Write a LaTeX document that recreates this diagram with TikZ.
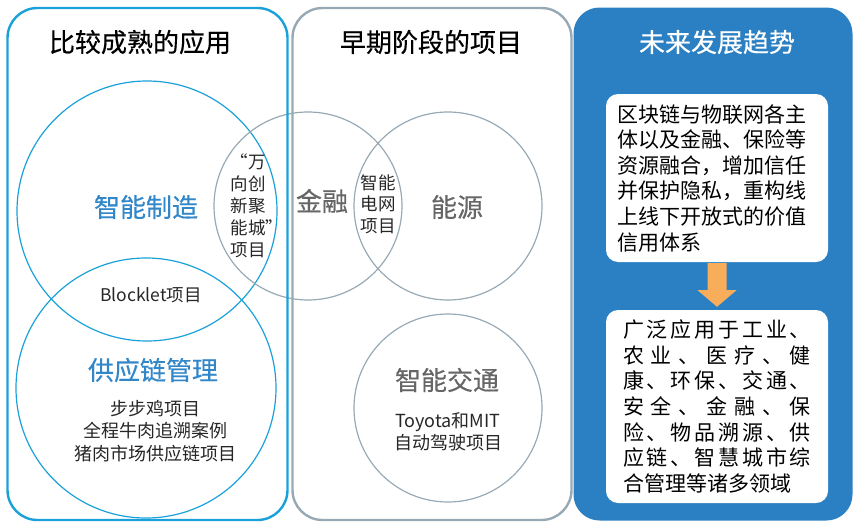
\documentclass[tikz,border=0pt]{standalone}
\usepackage{fontspec}
\setmainfont{Noto Sans CJK SC}
\newfontfamily\headfont[FakeBold=0.4]{Noto Sans CJK SC}
\usetikzlibrary{calc}
\definecolor{panelblue}{HTML}{1BA1DA}
\definecolor{panelgrey}{HTML}{97A9B5}
\definecolor{trendblue}{HTML}{2A80C2}
\definecolor{labelblue}{HTML}{3287C9}
\definecolor{labelgrey}{HTML}{666666}
\definecolor{arroworange}{HTML}{F8AD5B}
% spread the characters of one line over the box width
\newcommand{\spreadrow}[1]{\leavevmode\hbox to 188pt{\spreadfirst#1\relax}}
\def\spreadfirst#1{#1\spreadnext}
\def\spreadnext#1{\ifx#1\relax\else\hfil#1\expandafter\spreadnext\fi}
\begin{document}
\begin{tikzpicture}[x=1pt,y=-1pt,
    panel/.style={rectangle,rounded corners=30pt,line width=2.4pt,minimum height=512pt,inner sep=0pt},
    venn/.style={circle,line width=1.2pt,inner sep=0pt},
    heading/.style={font=\headfont\fontsize{26}{30}\selectfont},
    smalltext/.style={font=\fontsize{17.5}{22}\selectfont,align=center,text=black!85},
    trendbox/.style={rectangle,fill=white,rounded corners=12pt,minimum width=222pt,inner sep=0pt,align=left,font=\fontsize{21}{25.6}\selectfont}]
    \useasboundingbox (0,0) rectangle (854,522);
    % venn circles
    \node[venn,draw=panelblue,minimum size=260pt] (manuf)   at (147,211) {};
    \node[venn,draw=panelblue,minimum size=260pt] (supply)  at (146,388) {};
    \node[venn,draw=panelgrey,minimum size=188pt] (finance) at (308,206) {};
    \node[venn,draw=panelgrey,minimum size=188pt] (energy)  at (448,206) {};
    \node[venn,draw=panelgrey,minimum size=188pt] (traffic) at (448,408) {};
    % panels
    \node[panel,draw=panelblue,minimum width=280pt] (mature) at (147.5,264) {};
    \node[panel,draw=panelgrey,minimum width=279pt] (early)  at (432,264) {};
    \node[panel,fill=trendblue,rounded corners=26pt,minimum width=279pt,minimum height=513pt] (trend) at (713,264) {};
    \node[heading] (maturetitle) at (140,42) {比较成熟的应用};
    \node[heading] (earlytitle)  at (431,42) {早期阶段的项目};
    \node[heading,text=white] (trendtitle) at (717,42) {未来发展趋势};
    % left panel
    \node[heading,text=labelblue] (manuflabel)  at (146,207) {智能制造};
    \node[heading,text=labelblue] (supplylabel) at (153,370) {供应链管理};
    \node[smalltext,align=left,anchor=west] (wanxiang) at (227,206) {“万\\向创\\新聚\\能城”\\项目};
    \node[smalltext] (blocklet) at (151,295) {Blocklet项目};
    \node[smalltext,font=\fontsize{18}{22.5}\selectfont] (supplycases) at (155,431) {步步鸡项目\\全程牛肉追溯案例\\猪肉市场供应链项目};
    % middle panel
    \node[heading,text=labelgrey] (financelabel) at (322,201) {金融};
    \node[heading,text=labelgrey] (energylabel)  at (457,207) {能源};
    \node[heading,text=labelgrey] (trafficlabel) at (447,380) {智能交通};
    \node[smalltext,font=\fontsize{17.5}{21.5}\selectfont] (grid) at (378,204) {智能\\电网\\项目};
    \node[smalltext,font=\fontsize{18}{22}\selectfont] (toyota) at (448,432) {Toyota和MIT\\自动驾驶项目};
    % right panel
    \node[trendbox,minimum height=168pt,text width=200pt] (future) at (717,178)
        {区块链与物联网各主\\体以及金融、保险等\\资源融合，增加信任\\并保护隐私，重构线\\上线下开放式的价值\\信用体系};
    \node[trendbox,minimum height=193pt] (broad) at (717,406.5)
        {\spreadrow{广泛应用于工业、}\\\spreadrow{农业、医疗、健}\\\spreadrow{康、环保、交通、}\\\spreadrow{安全、金融、保}\\\spreadrow{险、物品溯源、供}\\\spreadrow{应链、智慧城市综}\\合管理等诸多领域};
    \fill[arroworange] ($(future.south)+(-9.5,1)$) -- ($(future.south)+(-9.5,28)$) -- ($(future.south)+(-19.5,28)$)
        -- ($(broad.north)+(0,-3)$) -- ($(future.south)+(19.5,28)$) -- ($(future.south)+(9.5,28)$)
        -- ($(future.south)+(9.5,1)$) -- cycle;
\end{tikzpicture}
\end{document}
